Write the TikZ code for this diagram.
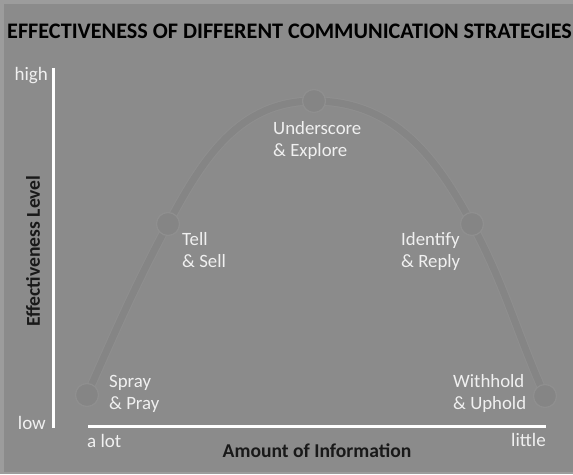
\documentclass[tikz,border=0pt]{standalone}
\usepackage{fontspec}
\setmainfont{Carlito}
\usetikzlibrary{positioning}

\definecolor{bggray}{RGB}{139,139,139}
\definecolor{rimgray}{RGB}{156,156,156}
\definecolor{arcgray}{RGB}{133,133,133}
\definecolor{arcedge}{RGB}{143,143,143}
\definecolor{labwhite}{RGB}{240,240,240}

\begin{document}
\begin{tikzpicture}[
  x=1pt, y=1pt,
  title/.style={font=\fontsize{22.2}{26}\selectfont\bfseries, text=black, inner sep=0},
  axlbl/.style={font=\fontsize{19.6}{23}\selectfont\bfseries, text=black!90, inner sep=0},
  tick/.style={font=\fontsize{19}{22}\selectfont, text=labwhite, inner sep=0},
  strat/.style={font=\fontsize{18.8}{22.5}\selectfont, text=labwhite, align=left, inner sep=0, anchor=base west},
  axis/.style={draw=white, line width=3pt},
  dot/.style={circle, fill=arcgray, draw=arcedge, line width=1.2pt, minimum size=23pt, inner sep=0},
  arcline/.style={draw=arcgray, line width=7pt, line cap=round},
  arcrim/.style={draw=arcedge, line width=9pt, line cap=round},
]

% frame
\fill[rimgray] (0,0) rectangle (573,474);
\fill[bggray] (4,2) rectangle (573,470);
\useasboundingbox (0,0) rectangle (573,474);

\node[title, anchor=base west] (ttl) at (7,435) {EFFECTIVENESS OF DIFFERENT COMMUNICATION STRATEGIES};

% the five strategies along the arch
\node[dot] (spray) at (87,79)  {};
\node[dot] (tell)  at (168,250) {};
\node[dot] (under) at (314,373) {};
\node[dot] (ident) at (472,250) {};
\node[dot] (hold)  at (545,78)  {};

\draw[arcrim] (spray.center) to[out=66,in=242] (tell.center) to[out=62,in=180] (under.center)
  to[out=0,in=118] (ident.center) to[out=-62,in=114] (hold.center);
\draw[arcline] (spray.center) to[out=66,in=242] (tell.center) to[out=62,in=180] (under.center)
  to[out=0,in=118] (ident.center) to[out=-62,in=114] (hold.center);
\foreach \n in {spray,tell,under,ident,hold}
  \node[dot] at (\n) {};

% base sits on the second line
\node[strat] (sprayl) at (109,64)  {Spray\\\& Pray};
\node[strat] (telll)  at (182,206) {Tell\\\& Sell};
\node[strat] (underl) at (273,317) {Underscore\\\& Explore};
\node[strat] (identl) at (401,206) {Identify\\\& Reply};
\node[strat] (holdl)  at (453,64)  {Withhold\\\& Uphold};

% axes
\coordinate (ytop) at (53,406);
\coordinate (orig) at (53,46);
\coordinate (xl) at (88,47);
\coordinate (xr) at (546,47);
\draw[axis] (ytop) -- (orig);
\draw[axis] (xl) -- (xr);

\node[tick, anchor=east] (hi) at (48,398) {high};
\node[tick, anchor=east] (lo) at (46,51) {low};
\node[tick, anchor=west] (alot) at (87,33) {a lot};
\node[tick, anchor=east] (little) at (546,34) {little};

\node[axlbl] (xlab) at (317,23) {Amount of Information};
\node[axlbl, rotate=90] (ylab) at (33,223) {Effectiveness Level};

\end{tikzpicture}
\end{document}
